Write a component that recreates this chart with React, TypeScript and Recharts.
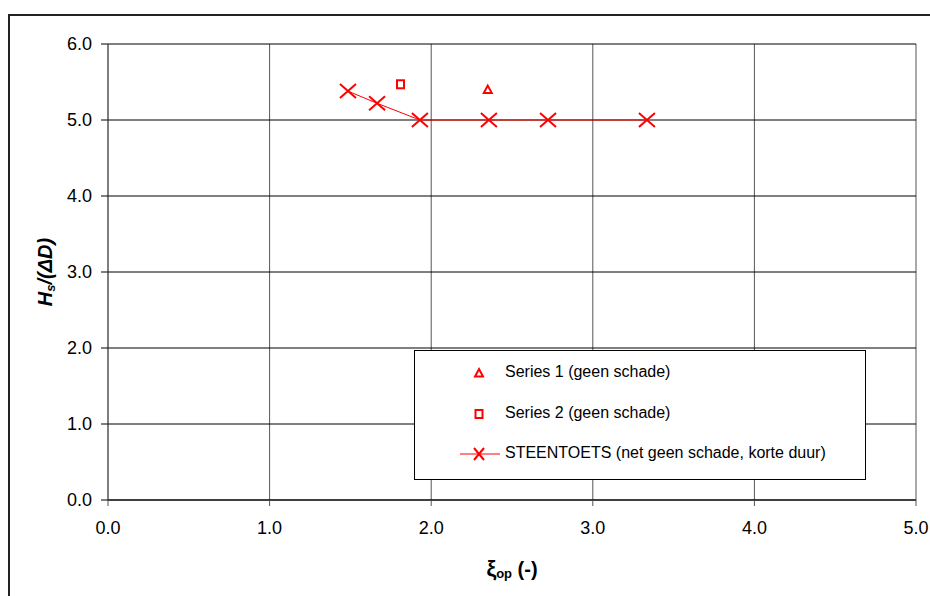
import React from "react";
import {
  ScatterChart,
  Scatter,
  XAxis,
  YAxis,
  CartesianGrid,
  Label,
} from "recharts";

const xTicks = [0, 1, 2, 3, 4, 5];
const yTicks = [0, 1, 2, 3, 4, 5, 6];

// series 1: triangles
const series1X = [2.35];
const series1Y = [5.4];
// series 2: squares
const series2X = [1.81];
const series2Y = [5.47];
// steentoets line with crosses
const steenX = [1.485, 1.665, 1.93, 2.357, 2.723, 3.335];
const steenY = [5.38, 5.22, 5.0, 5.0, 5.0, 5.0];

const zip = (xs: number[], ys: number[]) => xs.map((x, i) => ({ x, y: ys[i] }));

const RED = "#ff0000";
const FONT = "'Liberation Sans', Arial, sans-serif";

const Triangle = (p: any) => (
  <path
    d={`M${p.cx},${p.cy - 4} L${p.cx + 4},${p.cy + 3.5} L${p.cx - 4},${p.cy + 3.5} Z`}
    fill="none"
    stroke={RED}
    strokeWidth={2}
  />
);

const Square = (p: any) => (
  <rect x={p.cx - 3.5} y={p.cy - 4} width={7} height={8} fill="none" stroke={RED} strokeWidth={2} />
);

const Cross = (p: any) => (
  <path
    d={`M${p.cx - 8},${p.cy - 7} L${p.cx + 8},${p.cy + 7} M${p.cx + 8},${p.cy - 7} L${p.cx - 8},${p.cy + 7}`}
    stroke={RED}
    strokeWidth={2}
    fill="none"
  />
);

const legendItems = [
  { name: "Series 1 (geen schade)", icon: "tri" },
  { name: "Series 2 (geen schade)", icon: "sq" },
  { name: "STEENTOETS (net geen schade, korte duur)", icon: "cross" },
];

function LegendBox() {
  return (
    <div
      style={{
        position: "absolute",
        left: 414,
        top: 350,
        width: 450,
        height: 128,
        border: "1px solid #000",
        background: "#fff",
        fontFamily: FONT,
        fontSize: 16,
        color: "#000",
      }}
    >
      {legendItems.map((it, i) => {
        const top = 22 + i * 40.5;
        return (
          <div key={it.name} style={{ position: "absolute", left: 0, top: top - 12, height: 24, width: 450 }}>
            <svg width={90} height={24} style={{ position: "absolute", left: 0, top: 0 }}>
              {it.icon === "tri" && <Triangle cx={64} cy={12} />}
              {it.icon === "sq" && <Square cx={64} cy={12} />}
              {it.icon === "cross" && (
                <g>
                  <line x1={45} y1={12} x2={85} y2={12} stroke={RED} strokeWidth={1} />
                  <path d="M59,6 L69,18 M69,6 L59,18" stroke={RED} strokeWidth={2} />
                </g>
              )}
            </svg>
            <span style={{ position: "absolute", left: 90, top: 2, whiteSpace: "nowrap" }}>{it.name}</span>
          </div>
        );
      })}
    </div>
  );
}

const YTitle = (props: any) => {
  const vb = props.viewBox;
  const cy = vb.y + vb.height / 2;
  return (
    <text
      transform={`translate(45, ${cy}) rotate(-90)`}
      textAnchor="middle"
      dominantBaseline="central"
      fontFamily={FONT}
      fontWeight="bold"
      fontStyle="italic"
      fontSize={20}
      fill="#000"
    >
      H
      <tspan fontSize={13} dy={5}>s</tspan>
      <tspan dy={-5}>/(ΔD)</tspan>
    </text>
  );
};

const XTitle = (props: any) => {
  const vb = props.viewBox;
  const cx = vb.x + vb.width / 2;
  return (
    <text x={cx} y={576} textAnchor="middle" fontFamily={FONT} fontWeight="bold" fontSize={20} fill="#000">
      <tspan fontSize={22}>ξ</tspan>
      <tspan fontSize={13} dy={2}>op</tspan>
      <tspan dy={-2}> (-)</tspan>
    </text>
  );
};

export default function App() {
  return (
    <div style={{ position: "fixed", left: 0, top: 0, width: 930, height: 596, overflow: "hidden", background: "#fff" }}>
      <div
        style={{
          position: "absolute",
          left: 8,
          top: 14,
          width: 1000,
          height: 1000,
          borderLeft: "2px solid #222",
          borderTop: "2px solid #222",
        }}
      />
      <div style={{ position: "absolute", left: 0, top: 0 }}>
        <ScatterChart width={930} height={596} margin={{ top: 44, right: 14, bottom: 36, left: 28 }}>
          <CartesianGrid horizontal={false} stroke="#555" strokeWidth={1} />
          <CartesianGrid vertical={false} stroke="#000" strokeWidth={1} />
          <XAxis
            type="number"
            dataKey="x"
            domain={[0, 5]}
            ticks={xTicks}
            tickFormatter={(v: number) => v.toFixed(1)}
            height={60}
            stroke="#000"
            tickSize={6}
            tickMargin={15}
            tickLine={{ stroke: "#555" }}
            tick={{ fill: "#000", fontSize: 18, fontFamily: FONT }}
            allowDataOverflow
          >
            <Label content={XTitle} />
          </XAxis>
          <YAxis
            type="number"
            dataKey="y"
            domain={[0, 6]}
            ticks={yTicks}
            tickFormatter={(v: number) => v.toFixed(1)}
            width={80}
            axisLine={{ stroke: "#555" }}
            tickSize={7}
            tickMargin={9}
            tickLine={{ stroke: "#000" }}
            tick={{ fill: "#000", fontSize: 18, fontFamily: FONT }}
            allowDataOverflow
          >
            <Label content={YTitle} />
          </YAxis>
          <Scatter
            name="Series 1 (geen schade)"
            data={zip(series1X, series1Y)}
            shape={Triangle}
            isAnimationActive={false}
          />
          <Scatter
            name="Series 2 (geen schade)"
            data={zip(series2X, series2Y)}
            shape={Square}
            isAnimationActive={false}
          />
          <Scatter
            name="STEENTOETS (net geen schade, korte duur)"
            data={zip(steenX, steenY)}
            shape={Cross}
            line={{ stroke: RED, strokeWidth: 1 }}
            lineType="joint"
            isAnimationActive={false}
          />
        </ScatterChart>
      </div>
      <LegendBox />
    </div>
  );
}
